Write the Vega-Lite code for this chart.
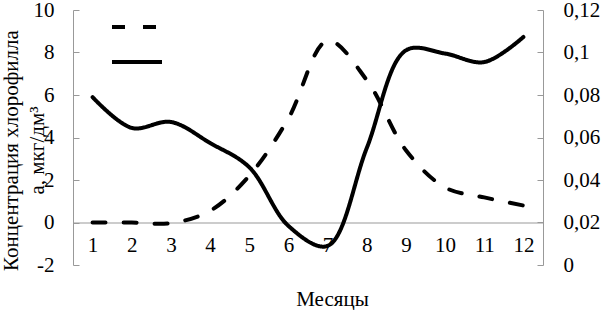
{
  "$schema": "https://vega.github.io/schema/vega-lite/v6.json",
  "width": 470,
  "height": 255,
  "autosize": {"type": "none"},
  "padding": {"left": 73, "top": 10, "right": 59, "bottom": 45},
  "config": {
    "view": {"stroke": null},
    "font": "Liberation Serif",
    "axis": {
      "labelFont": "Liberation Serif",
      "titleFont": "Liberation Serif",
      "labelColor": "#000",
      "titleColor": "#000",
      "titleFontWeight": "normal",
      "domainColor": "#999",
      "tickColor": "#999",
      "labelFontSize": 21,
      "titleFontSize": 21,
      "grid": false
    }
  },
  "data": {
    "values": [
      {"month": 1, "series": "Хлорофилл а", "value": 0},
      {"month": 2, "series": "Хлорофилл а", "value": 0},
      {"month": 3, "series": "Хлорофилл а", "value": -0.03},
      {"month": 4, "series": "Хлорофилл а", "value": 0.55},
      {"month": 5, "series": "Хлорофилл а", "value": 2.2},
      {"month": 6, "series": "Хлорофилл а", "value": 4.9},
      {"month": 7, "series": "Хлорофилл а", "value": 8.55},
      {"month": 8, "series": "Хлорофилл а", "value": 6.7},
      {"month": 9, "series": "Хлорофилл а", "value": 3.4},
      {"month": 10, "series": "Хлорофилл а", "value": 1.65},
      {"month": 11, "series": "Хлорофилл а", "value": 1.18},
      {"month": 12, "series": "Хлорофилл а", "value": 0.8},
      {"month": 1, "series": "Второй показатель", "value": 0.079},
      {"month": 2, "series": "Второй показатель", "value": 0.0645},
      {"month": 3, "series": "Второй показатель", "value": 0.0673},
      {"month": 4, "series": "Второй показатель", "value": 0.0574},
      {"month": 5, "series": "Второй показатель", "value": 0.046},
      {"month": 6, "series": "Второй показатель", "value": 0.0184},
      {"month": 7, "series": "Второй показатель", "value": 0.009},
      {"month": 8, "series": "Второй показатель", "value": 0.055},
      {"month": 9, "series": "Второй показатель", "value": 0.101},
      {"month": 10, "series": "Второй показатель", "value": 0.0995},
      {"month": 11, "series": "Второй показатель", "value": 0.0955},
      {"month": 12, "series": "Второй показатель", "value": 0.1073}
    ]
  },
  "layer": [
    {
      "transform": [{"filter": "datum.series === 'Хлорофилл а'"}],
      "mark": {"type": "line", "interpolate": "catmull-rom", "strokeWidth": 4, "strokeCap": "round", "color": "#000"},
      "encoding": {
        "x": {
          "field": "month", "type": "quantitative",
          "scale": {"domain": [0.5, 12.5], "nice": false, "zero": false},
          "axis": {
            "values": [1, 2, 3, 4, 5, 6, 7, 8, 9, 10, 11, 12],
            "offset": -42.5,
            "ticks": false,
            "labelPadding": 12,
            "labelBaseline": "top",
            "title": "Месяцы",
            "titleX": 259,
            "titleY": 83,
            "titleBaseline": "alphabetic",
            "titleAlign": "center",
            "titleFontSize": 21
          }
        },
        "y": {
          "field": "value", "type": "quantitative",
          "scale": {"domain": [-2, 10], "nice": false, "zero": false},
          "axis": {
            "values": [-2, 0, 2, 4, 6, 8, 10],
            "tickSize": -6,
            "labelPadding": 25,
            "labelExpr": "'' + datum.value",
            "title": ["Концентрация хлорофилла", "а, мкг/дм³"],
            "titleAngle": -90,
            "titleX": -56,
            "titleY": 140,
            "titleAlign": "center",
            "titleBaseline": "alphabetic",
            "titleLineHeight": 26
          }
        },
        "strokeDash": {
          "field": "series", "type": "nominal",
          "scale": {"domain": ["Хлорофилл а", "Второй показатель"], "range": [[13, 18], [1, 0]]},
          "legend": {
            "orient": "none",
            "legendX": 37,
            "legendY": -10,
            "title": null,
            "labelExpr": "''",
            "labelFontSize": 1,
            "symbolSize": 2500,
            "symbolStrokeWidth": 4,
            "symbolStrokeColor": "#000",
            "rowPadding": -25,
            "padding": 0
          }
        }
      }
    },
    {
      "transform": [{"filter": "datum.series === 'Второй показатель'"}],
      "mark": {"type": "line", "interpolate": "catmull-rom", "strokeWidth": 4, "strokeCap": "round", "color": "#000"},
      "encoding": {
        "x": {"field": "month", "type": "quantitative"},
        "y": {
          "field": "value", "type": "quantitative",
          "scale": {"domain": [0, 0.12], "nice": false, "zero": false},
          "axis": {
            "orient": "right",
            "values": [0, 0.02, 0.04, 0.06, 0.08, 0.1, 0.12],
            "tickSize": -6,
            "labelPadding": 26,
            "labelExpr": "replace(format(datum.value, '.2~f'), '.', ',')",
            "title": null
          }
        },
        "strokeDash": {"field": "series", "type": "nominal"}
      }
    }
  ],
  "resolve": {"scale": {"y": "independent"}}
}
